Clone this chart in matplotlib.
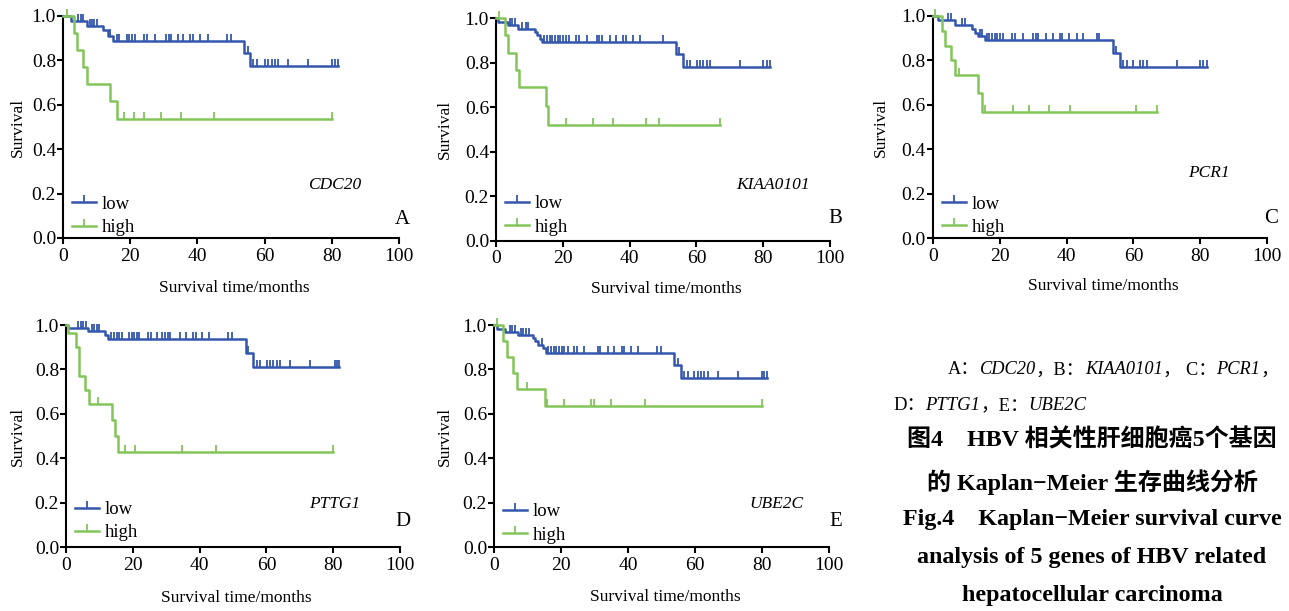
import numpy as np
import matplotlib
matplotlib.use("Agg")
import matplotlib.pyplot as plt
from matplotlib.lines import Line2D
from matplotlib.offsetbox import TextArea, HPacker, AnnotationBbox

plt.rcParams['font.family'] = ['Liberation Serif', 'Noto Sans CJK SC']
plt.rcParams['axes.unicode_minus'] = False

# ---- survival data (months, survival fraction) ----
# CDC20
cdc20_low_t = [2.5, 7.0, 12.0, 13.5, 15.0, 53.8, 55.8]
cdc20_low_s = [0.978, 0.956, 0.935, 0.912, 0.889, 0.833, 0.777]
cdc20_low_c = [4.5, 5.3, 6.0, 8.0, 8.7, 9.3, 10.2, 14.0, 16.0, 16.8, 18.9, 19.6, 20.4, 21.4,
               24.1, 25.1, 27.4, 30.7, 31.4, 32.1, 34.1, 35.8, 37.8, 38.6, 40.8, 43.1, 48.9,
               49.9, 55.0, 56.6, 57.6, 60.1, 61.1, 62.1, 63.1, 63.9, 66.9, 72.8, 80.2, 80.9, 81.7]
cdc20_high_t = [3.4, 4.3, 6.0, 7.0, 14.0, 16.0]
cdc20_high_s = [0.923, 0.846, 0.769, 0.692, 0.615, 0.538]
cdc20_high_c = [1.1, 18.2, 21.1, 24.1, 29.1, 35.0, 45.0, 80.0]

# KIAA0101
kiaa_low_t = [0.7, 3.5, 6.6, 11.7, 12.4, 13.2, 13.9, 53.9, 56.0]
kiaa_low_s = [0.984, 0.970, 0.953, 0.939, 0.924, 0.909, 0.895, 0.838, 0.779]
kiaa_low_c = [4.2, 4.9, 5.7, 7.9, 8.9, 9.7, 14.5, 15.3, 16.1, 16.9, 17.7, 18.5, 19.3, 20.1,
              20.9, 21.9, 24.1, 24.9, 27.1, 30.1, 30.9, 31.6, 34.1, 35.9, 38.1, 38.8, 40.9,
              43.1, 50.1, 54.9, 57.1, 58.1, 60.1, 61.1, 62.1, 63.1, 64.1, 73.1, 80.0, 81.0, 82.0]
kiaa_high_t = [2.8, 3.7, 6.0, 6.9, 14.9, 15.7]
kiaa_high_s = [0.923, 0.846, 0.769, 0.692, 0.606, 0.520]
kiaa_high_c = [0.8, 21.0, 28.9, 34.9, 44.9, 48.9, 67.0]

# PCR1
pcr1_low_t = [1.5, 6.8, 11.6, 12.6, 13.6, 15.6, 53.9, 55.9]
pcr1_low_s = [0.980, 0.958, 0.940, 0.925, 0.910, 0.890, 0.832, 0.771]
pcr1_low_c = [4.7, 5.5, 8.9, 9.7, 14.1, 14.8, 16.1, 16.9, 17.7, 18.5, 19.3, 20.1, 20.9, 23.8,
              24.6, 27.1, 30.1, 30.9, 31.6, 33.9, 36.1, 38.0, 38.7, 40.8, 43.0, 45.0, 49.0,
              49.8, 54.9, 57.0, 58.0, 60.0, 62.0, 63.0, 64.0, 73.0, 79.9, 80.9, 81.9]
pcr1_high_t = [2.7, 3.7, 5.5, 6.7, 13.6, 14.6]
pcr1_high_s = [0.933, 0.867, 0.800, 0.733, 0.652, 0.570]
pcr1_high_c = [0.7, 7.9, 15.6, 23.9, 28.9, 34.9, 40.9, 60.8, 66.9]

# PTTG1
pttg1_low_t = [0.7, 6.5, 11.7, 12.7, 53.9, 55.9]
pttg1_low_s = [0.985, 0.971, 0.954, 0.936, 0.872, 0.813]
pttg1_low_c = [3.7, 4.5, 5.2, 5.9, 7.7, 8.5, 9.2, 10.0, 13.5, 14.4, 15.2, 16.0, 16.7, 18.9,
               19.7, 20.4, 21.2, 22.0, 24.5, 25.3, 27.1, 28.8, 29.6, 30.4, 31.1, 34.1, 35.8,
               38.1, 38.8, 40.6, 42.8, 48.6, 49.6, 54.6, 57.1, 58.1, 60.1, 61.1, 62.1, 63.1,
               64.1, 67.1, 73.1, 80.4, 81.1, 81.8]
pttg1_high_t = [0.5, 3.0, 3.9, 5.7, 6.8, 13.8, 14.7, 15.7]
pttg1_high_s = [0.962, 0.902, 0.771, 0.707, 0.643, 0.571, 0.500, 0.429]
pttg1_high_c = [9.7, 17.7, 20.8, 34.8, 44.8, 80.0]

# UBE2C
ube2c_low_t = [0.8, 3.3, 7.3, 11.7, 12.3, 13.2, 14.7, 15.6, 53.8, 55.8]
ube2c_low_s = [0.984, 0.970, 0.955, 0.940, 0.926, 0.911, 0.896, 0.874, 0.818, 0.762]
ube2c_low_c = [4.8, 5.5, 6.3, 8.1, 8.8, 9.5, 10.3, 14.2, 16.2, 17.0, 17.8, 18.6, 19.4, 20.2,
               21.0, 22.0, 24.0, 24.7, 26.9, 30.9, 31.6, 34.1, 35.9, 38.1, 38.9, 40.9, 42.9,
               48.8, 49.9, 54.8, 56.8, 57.8, 59.8, 60.8, 61.8, 62.8, 63.8, 66.8, 72.7, 79.9,
               80.7, 81.5]
ube2c_high_t = [2.8, 4.0, 5.8, 7.0, 15.1]
ube2c_high_s = [0.929, 0.857, 0.786, 0.714, 0.635]
ube2c_high_c = [0.8, 9.9, 15.9, 20.9, 28.9, 29.9, 34.8, 45.1, 80.0]

genes = ["CDC20", "KIAA0101", "PCR1", "PTTG1", "UBE2C"]
letters = ["A", "B", "C", "D", "E"]
x_ticks = [0, 20, 40, 60, 80, 100]
y_ticks = [0.0, 0.2, 0.4, 0.6, 0.8, 1.0]

BLUE = "#3457ae"
GREEN = "#82c55a"

W, H = 1289, 611
fig = plt.figure(figsize=(W / 100, H / 100), dpi=100)

# axes boxes in pixels: left, right, top(y=1), bottom(y=0)
boxes = [(63, 399, 16, 238), (496, 830, 18.3, 240.7), (932.7, 1267.3, 16, 238.3),
         (66, 400, 325, 547), (494, 829, 325, 547.3)]
ylab_off = [45, 51, 52, 48, 49]
xlab_off = [50, 48, 48, 51, 50]
gene_pos = [(88.9, 0.24), (94.0, 0.25), (88.9, 0.294), (88.0, 0.194), (92.3, 0.195)]
letter_pos = [(103.3, 0.085), (103.6, 0.10), (103.3, 0.09), (103.0, 0.114), (103.9, 0.115)]
legend_y = [0.162, 0.176, 0.165, 0.179, 0.170]

curves = [
    (cdc20_low_t, cdc20_low_s, cdc20_low_c, cdc20_high_t, cdc20_high_s, cdc20_high_c),
    (kiaa_low_t, kiaa_low_s, kiaa_low_c, kiaa_high_t, kiaa_high_s, kiaa_high_c),
    (pcr1_low_t, pcr1_low_s, pcr1_low_c, pcr1_high_t, pcr1_high_s, pcr1_high_c),
    (pttg1_low_t, pttg1_low_s, pttg1_low_c, pttg1_high_t, pttg1_high_s, pttg1_high_c),
    (ube2c_low_t, ube2c_low_s, ube2c_low_c, ube2c_high_t, ube2c_high_s, ube2c_high_c),
]


def km(ax, t, s, cens, color):
    end = max(max(cens), max(t))
    xs = np.array([0.0] + list(t) + [end])
    ys = np.array([1.0] + list(s) + [s[-1]])
    ax.step(xs, ys, where='post', color=color, lw=1.8, clip_on=False, zorder=3)
    idx = np.searchsorted(xs, cens, side='right') - 1
    ax.plot(cens, ys[idx], ls='none', marker=2, ms=5, mew=1.3, color=color,
            clip_on=False, zorder=3)


for i, (l, r, top, bot) in enumerate(boxes):
    ax = fig.add_axes([l / W, 1 - bot / H, (r - l) / W, (bot - top) / H])
    lt, ls_, lc, ht, hs, hc = curves[i]
    km(ax, lt, ls_, lc, BLUE)
    km(ax, ht, hs, hc, GREEN)

    ax.set_xlim(0, 100)
    ax.set_ylim(0, 1.0)
    ax.set_xticks(x_ticks)
    ax.set_yticks(y_ticks)
    ax.set_yticklabels([f"{v:.1f}" for v in y_ticks])
    for sp in ['top', 'right']:
        ax.spines[sp].set_visible(False)
    for sp in ['left', 'bottom']:
        ax.spines[sp].set_linewidth(1.5)
    ax.tick_params(axis='both', direction='out', length=4, width=1.5, labelsize=14)
    ax.tick_params(axis='x', pad=3)
    ax.tick_params(axis='y', pad=1)

    ax.set_xlabel("Survival time/months", fontsize=12.5, va='center')
    ax.set_ylabel("Survival", fontsize=12.5, va='center')
    ax.xaxis.set_label_coords(0.51, -xlab_off[i] / (bot - top))
    ax.yaxis.set_label_coords(-ylab_off[i] / (r - l), 0.5)

    gx, gy = gene_pos[i]
    ax.text(gx, gy, genes[i], fontsize=12.5, style='italic', ha='right', va='center')
    lx, ly = letter_pos[i]
    ax.text(lx, ly, letters[i], fontsize=15, ha='right', va='center', clip_on=False)

    handles = [Line2D([], [], color=BLUE, lw=1.8, marker=2, ms=5, mew=1.3),
               Line2D([], [], color=GREEN, lw=1.8, marker=2, ms=5, mew=1.3)]
    ax.legend(handles, ["low", "high"], loc='upper left',
              bbox_to_anchor=(0.027, legend_y[i] + 0.028), frameon=False, fontsize=13.5,
              handlelength=1.3, handletextpad=0.3, labelspacing=0.33, borderpad=0,
              borderaxespad=0, numpoints=1)

# ---- caption ----
def caption_line(parts, x, y, size, weight='normal'):
    kids = []
    for txt, style in parts:
        kids.append(TextArea(txt, textprops=dict(fontsize=size, style=style, weight=weight,
                                                 family=['Liberation Serif', 'Noto Sans CJK SC'])))
    pack = HPacker(children=kids, pad=0, sep=0, align='baseline')
    ab = AnnotationBbox(pack, (x / W, 1 - y / H), xycoords='figure fraction',
                        box_alignment=(0, 0.5), frameon=False, pad=0)
    fig.add_artist(ab)


caption_line([("A：", 'normal'), ("CDC20", 'italic'), ("，B：", 'normal'),
              ("KIAA0101", 'italic'), ("， C：", 'normal'), ("PCR1", 'italic'),
              ("，", 'normal')], 948, 370, 13.2)
caption_line([("D：", 'normal'), ("PTTG1", 'italic'), ("，E：", 'normal'),
              ("UBE2C", 'italic')], 893, 406, 13.4)

title_lines = ["图4　HBV 相关性肝细胞癌5个基因",
               "的 Kaplan−Meier 生存曲线分析",
               "Fig.4　Kaplan−Meier survival curve",
               "analysis of 5 genes of HBV related",
               "hepatocellular carcinoma"]
title_y = [440, 482, 519, 557, 596]
for txt, y in zip(title_lines, title_y):
    fig.text(1092 / W, 1 - y / H, txt, ha='center', va='center', fontsize=17.3,
             weight='bold', family=['Liberation Serif', 'Noto Sans CJK SC'])

fig.savefig("out.png", dpi=100)
